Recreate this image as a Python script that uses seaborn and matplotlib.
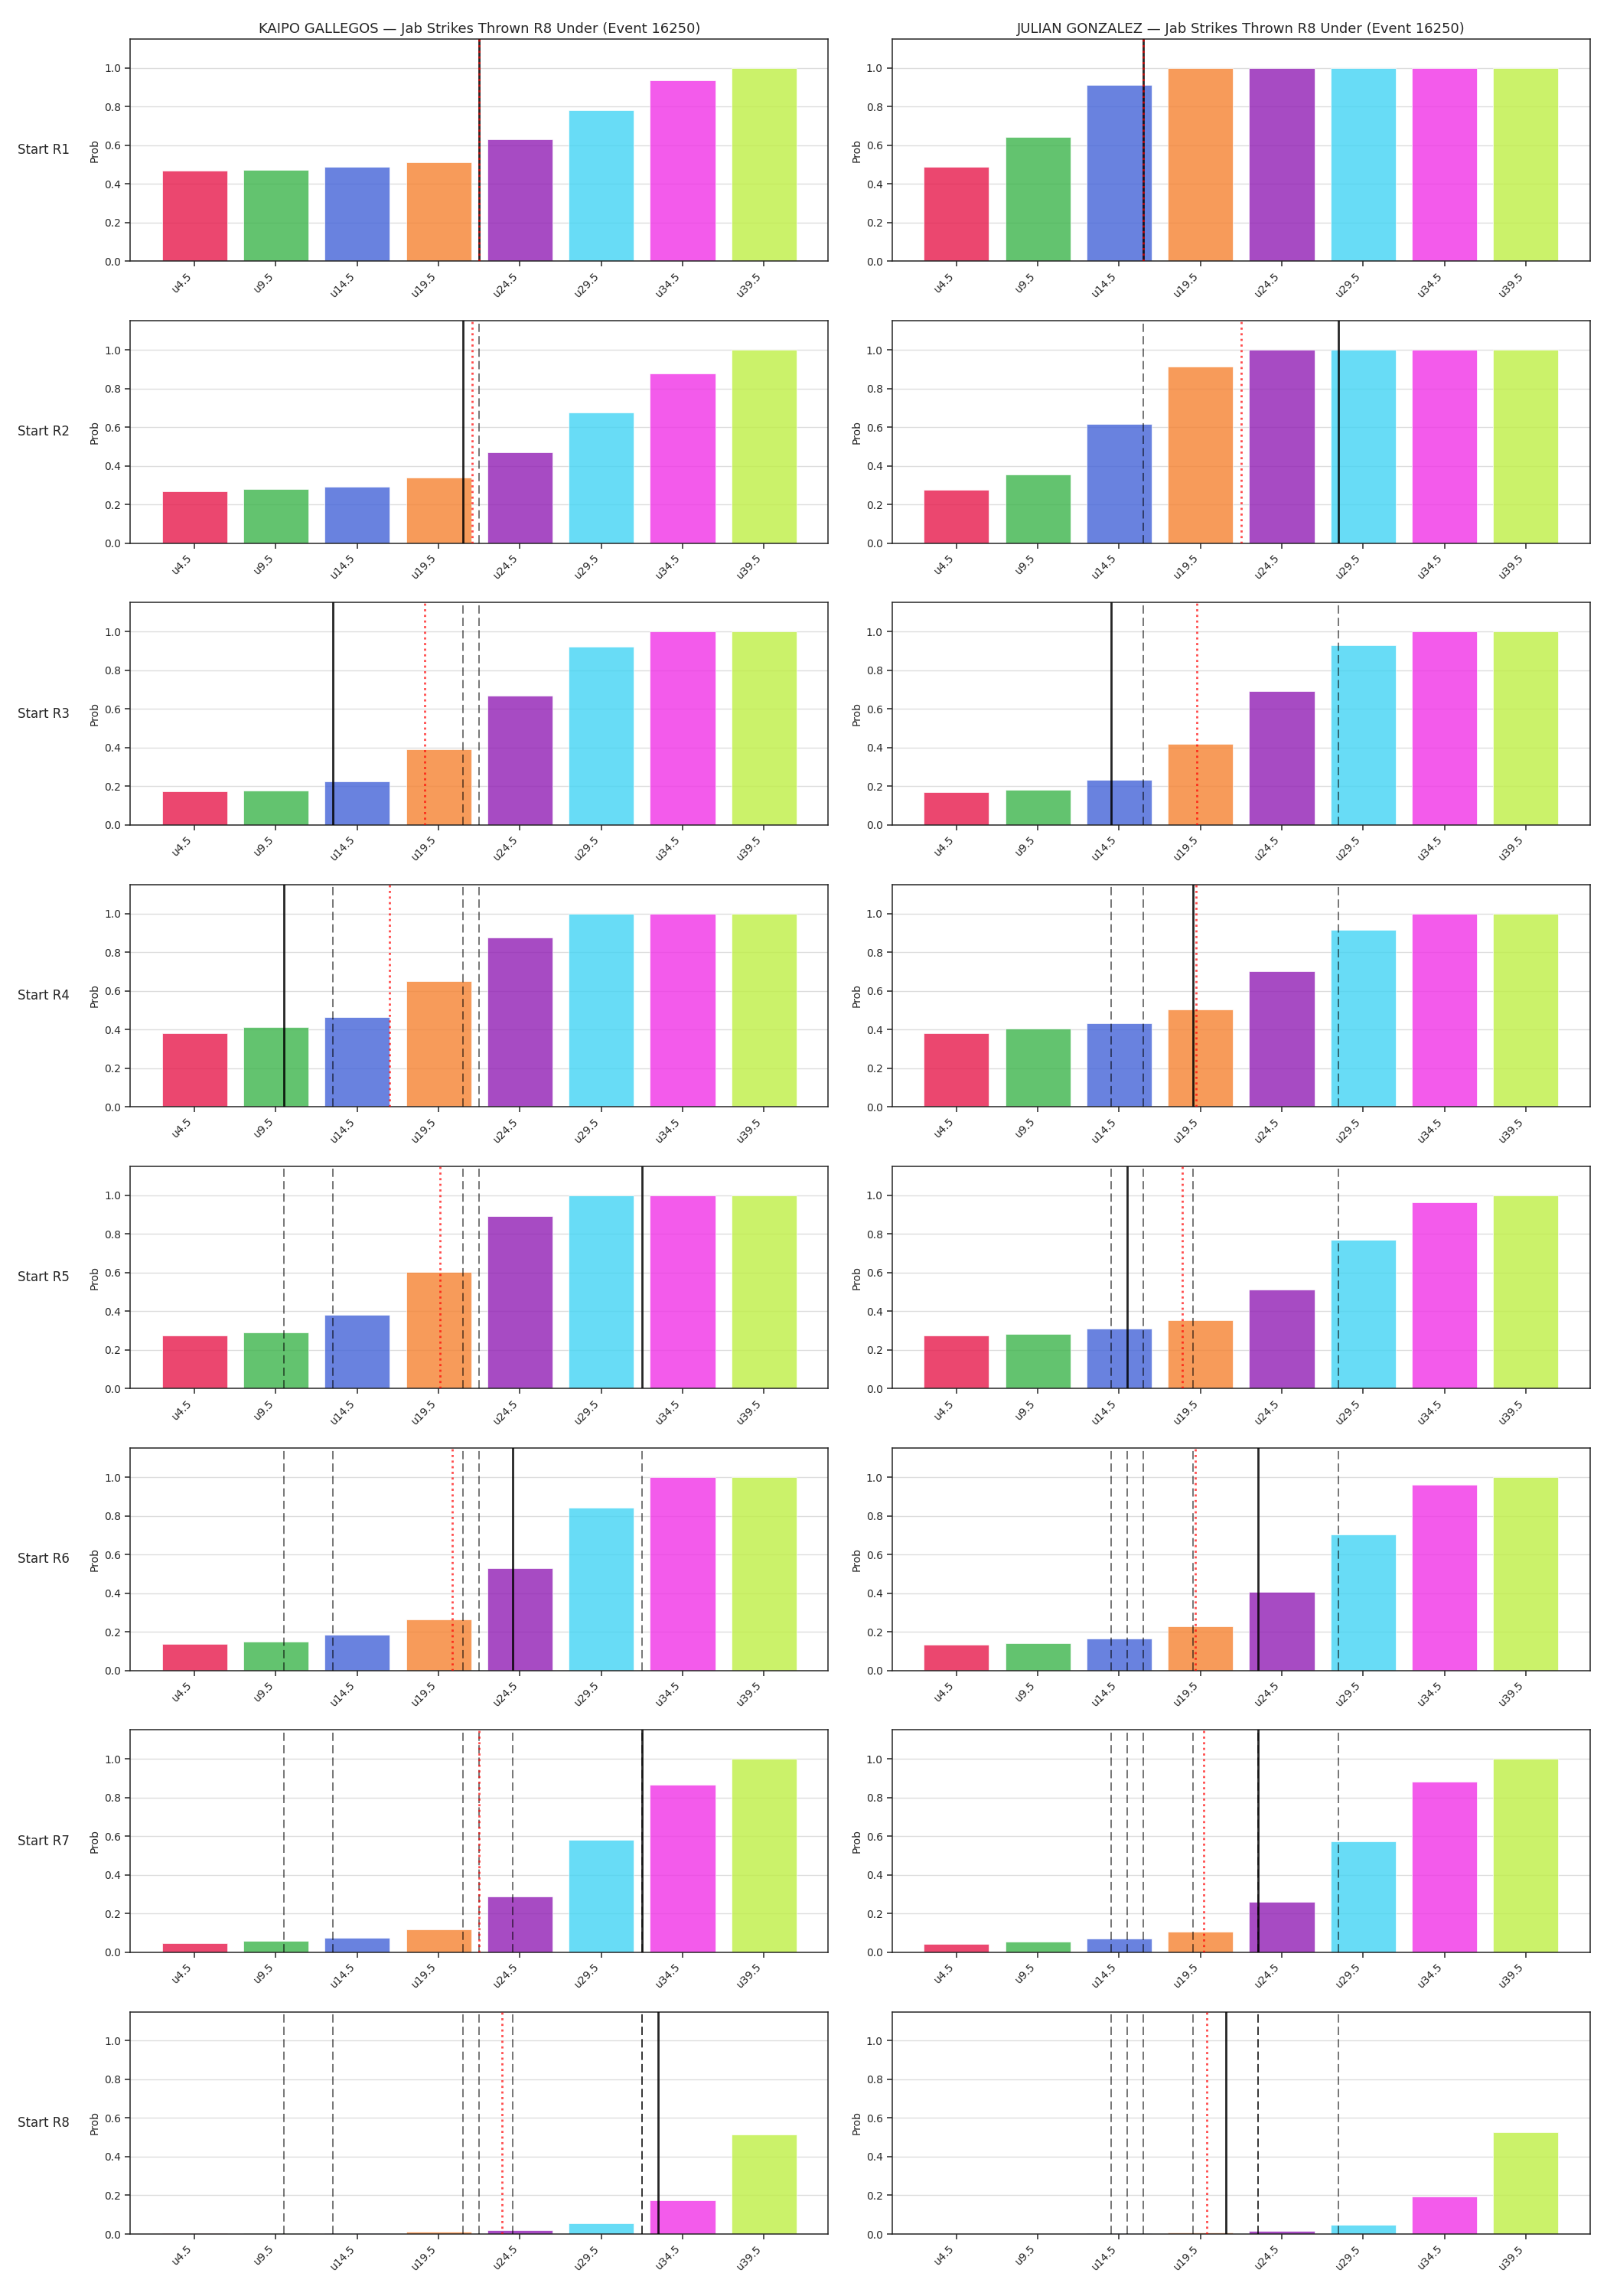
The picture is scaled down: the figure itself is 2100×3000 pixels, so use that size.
import numpy as np
import matplotlib
matplotlib.use("Agg")
import matplotlib.pyplot as plt
import seaborn as sns

# ---------------- data ----------------
categories = ["u4.5", "u9.5", "u14.5", "u19.5", "u24.5", "u29.5", "u34.5", "u39.5"]
thresholds = [4.5, 9.5, 14.5, 19.5, 24.5, 29.5, 34.5, 39.5]
fighters = ["KAIPO GALLEGOS", "JULIAN GONZALEZ"]
rounds = ["Start R1", "Start R2", "Start R3", "Start R4", "Start R5", "Start R6", "Start R7", "Start R8"]

kaipo_probs = [
    [0.468, 0.474, 0.490, 0.514, 0.630, 0.783, 0.938, 1.000],
    [0.268, 0.280, 0.292, 0.339, 0.470, 0.676, 0.878, 1.000],
    [0.172, 0.178, 0.224, 0.391, 0.669, 0.923, 1.000, 1.000],
    [0.381, 0.411, 0.463, 0.649, 0.877, 1.000, 1.000, 1.000],
    [0.276, 0.292, 0.380, 0.604, 0.891, 1.000, 1.000, 1.000],
    [0.137, 0.148, 0.183, 0.262, 0.530, 0.842, 1.000, 1.000],
    [0.046, 0.057, 0.074, 0.117, 0.287, 0.582, 0.866, 1.000],
    [0.002, 0.002, 0.003, 0.0105, 0.018, 0.054, 0.176, 0.516],
]
julian_probs = [
    [0.490, 0.645, 0.911, 1.000, 1.000, 1.000, 1.000, 1.000],
    [0.277, 0.355, 0.617, 0.914, 1.000, 1.000, 1.000, 1.000],
    [0.169, 0.180, 0.235, 0.418, 0.691, 0.932, 1.000, 1.000],
    [0.379, 0.403, 0.431, 0.504, 0.703, 0.916, 1.000, 1.000],
    [0.276, 0.284, 0.309, 0.352, 0.511, 0.768, 0.962, 1.000],
    [0.134, 0.139, 0.164, 0.227, 0.407, 0.705, 0.962, 1.000],
    [0.041, 0.055, 0.071, 0.107, 0.260, 0.574, 0.883, 1.000],
    [0.001, 0.001, 0.002, 0.0066, 0.0145, 0.046, 0.196, 0.527],
]

# projected totals (solid black) and live line (red dotted), in strikes
kaipo_proj = [22.0, 21.0, 13.0, 10.0, 32.0, 24.05, 32.0, 33.0]
kaipo_live = [22.0, 21.55, 18.65, 16.5, 19.6, 20.35, 22.0, 23.4]
julian_proj = [16.0, 28.0, 14.0, 19.05, 15.0, 23.05, 23.05, 21.05]
julian_live = [16.0, 22.0, 19.3, 19.25, 18.4, 19.2, 19.7, 19.9]

palette = ["#e6194b", "#3cb44b", "#4363d8", "#f58231",
           "#911eb4", "#42d4f4", "#f032e6", "#bfef45"]

# ---------------- style ----------------
sns.set_style("ticks")
plt.rcParams["font.family"] = ["DejaVu Sans"]
plt.rcParams["axes.edgecolor"] = "#262626"
plt.rcParams["axes.linewidth"] = 1.1

fig, axes = plt.subplots(8, 2, figsize=(21, 30), dpi=100)
fig.subplots_adjust(left=0.081, right=0.9895, top=0.983, bottom=0.027,
                    hspace=0.268, wspace=0.0914)

def to_pos(v):
    return float(np.interp(v, thresholds, np.arange(len(thresholds))))

all_probs = [kaipo_probs, julian_probs]
all_proj = [kaipo_proj, julian_proj]
all_live = [kaipo_live, julian_live]

for c in range(2):
    for r in range(8):
        ax = axes[r, c]
        sns.barplot(x=categories, y=all_probs[c][r], hue=categories,
                    palette=palette, legend=False, ax=ax, alpha=0.8,
                    saturation=1, edgecolor="white", linewidth=0.6, width=0.8)
        ax.set_xlim(-0.79, len(categories) - 0.21)
        ax.set_ylim(0, 1.15)
        ax.set_yticks([0.0, 0.2, 0.4, 0.6, 0.8, 1.0])
        ax.yaxis.grid(True, color="#dddddd", linewidth=1.0)
        ax.set_axisbelow(True)
        for s in ax.spines.values():
            s.set_visible(True)
            s.set_linewidth(1.1)
            s.set_color("#262626")
        ax.tick_params(axis="both", labelsize=10, length=5, width=1.1,
                       color="#262626")
        plt.setp(ax.get_xticklabels(), rotation=45, ha="right")
        ax.set_xlabel("")
        ax.set_ylabel("Prob", fontsize=10)

        # previous projections
        for k in range(r):
            ax.axvline(to_pos(all_proj[c][k]), color="black", alpha=0.58,
                       linestyle="--", linewidth=1.3, dashes=(6, 3), zorder=3)
        ax.axvline(to_pos(all_proj[c][r]), color="black", alpha=0.85,
                   linewidth=2.0, zorder=4)
        ax.axvline(to_pos(all_live[c][r]), color="red", alpha=0.7,
                   linestyle=":", linewidth=2.0, zorder=5)

        if r == 0:
            ax.set_title(f"{fighters[c]} — Jab Strikes Thrown R8 Under (Event 16250)",
                         fontsize=13)
        if c == 0:
            ax.text(-0.087, 0.5, rounds[r], transform=ax.transAxes,
                    ha="right", va="center", fontsize=12)

fig.savefig("out.png", dpi=100)
